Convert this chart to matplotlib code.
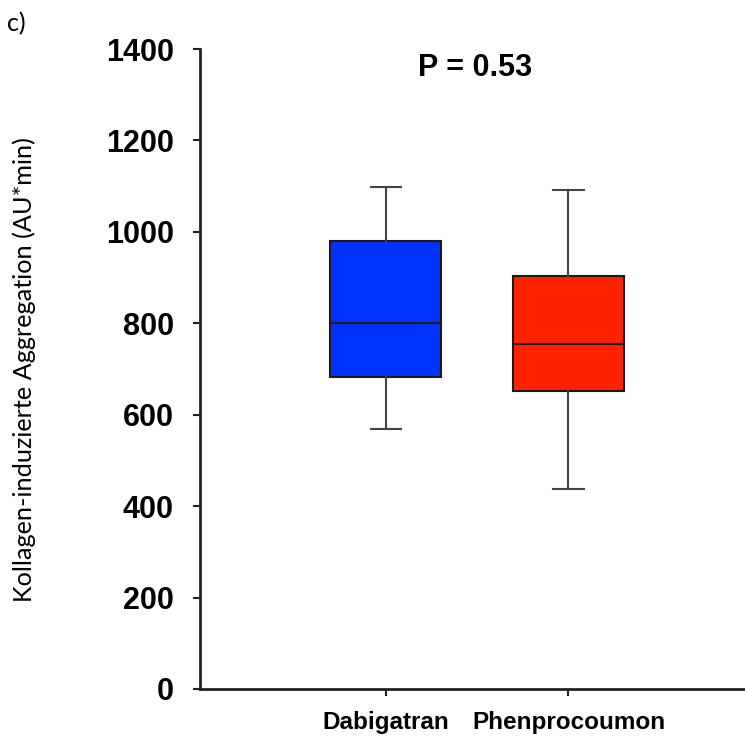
import matplotlib.pyplot as plt

# === data ===
groups = ['Dabigatran', 'Phenprocoumon']
whisker_low = [569, 437]
q1 = [682, 652]
median = [800, 755]
q3 = [980, 903]
whisker_high = [1098, 1092]
colors = ['#0033FF', '#FF2200']
p_text = 'P = 0.53'
y_ticks = [0, 200, 400, 600, 800, 1000, 1200, 1400]

fig = plt.figure(figsize=(7.45, 7.38), dpi=100)
ax = fig.add_axes([0.2685, 0.0664, 0.73, 0.8672])

stats = []
for i, name in enumerate(groups):
    stats.append({
        'label': name,
        'whislo': whisker_low[i],
        'q1': q1[i],
        'med': median[i],
        'q3': q3[i],
        'whishi': whisker_high[i],
        'fliers': [],
    })

bp = ax.bxp(stats, positions=[1, 2], widths=0.607, patch_artist=True,
            showfliers=False,
            boxprops=dict(edgecolor='#1a1a1a', linewidth=1.5),
            medianprops=dict(color='#1a1a1a', linewidth=1.5),
            whiskerprops=dict(color='#444444', linewidth=1.5),
            capprops=dict(color='#444444', linewidth=1.5),
            capwidths=0.165)
for patch, c in zip(bp['boxes'], colors):
    patch.set_facecolor(c)

ax.set_xlim(-0.016, 2.96)
ax.set_ylim(0, 1400)
ax.set_yticks(y_ticks)
ax.set_yticklabels([str(v) for v in y_ticks], fontfamily='Liberation Sans',
                   fontweight='bold', fontsize=22)
ax.set_xticks([1, 2])
ax.set_xticklabels(groups, fontfamily='Liberation Sans', fontweight='bold',
                   fontsize=17.5)

for side in ['top', 'right']:
    ax.spines[side].set_visible(False)
for side in ['left', 'bottom']:
    ax.spines[side].set_linewidth(2)
    ax.spines[side].set_color('#222222')
ax.tick_params(axis='both', direction='out', length=5, width=1.5, color='#222222')
ax.tick_params(axis='y', pad=14)
ax.tick_params(axis='x', pad=11)

ax.text(0.505, 0.971, p_text, transform=ax.transAxes, ha='center', va='center',
        fontfamily='Liberation Sans', fontweight='bold', fontsize=22)

fig.text(0.032, 0.4986, 'Kollagen-induzierte Aggregation (AU*min)', rotation=90,
         ha='center', va='center', fontfamily='Lato', fontsize=18.2)
fig.text(0.010, 0.968, 'c)', ha='left', va='center', fontfamily='Lato',
         fontsize=18)

fig.savefig('out.png', dpi=100)
